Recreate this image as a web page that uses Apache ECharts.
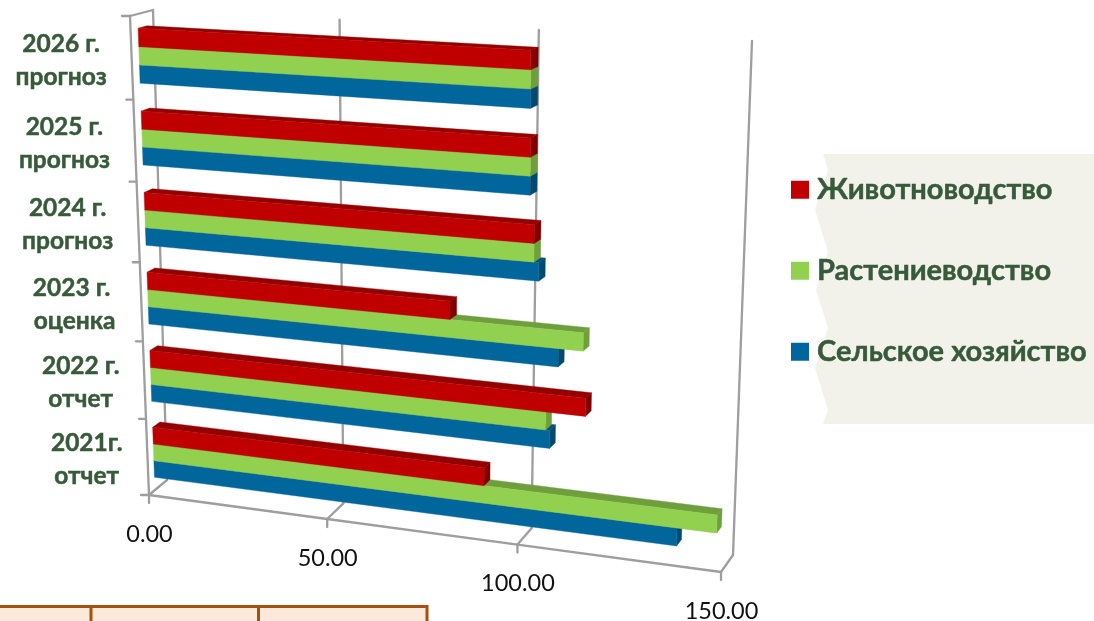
<!DOCTYPE html>
<html><head><meta charset="utf-8">
<style>html,body{margin:0;padding:0;background:#fff}#c{width:1094px;height:621px}</style>
<script src="https://cdn.jsdelivr.net/npm/echarts@6/dist/echarts.min.js"></script>
</head><body><div id="c"></div>
<script>
const categories = ['2021г.\nотчет','2022 г.\nотчет','2023 г. \nоценка','2024 г.\nпрогноз','2025 г.\nпрогноз','2026 г.\nпрогноз'];
const valueTicks = [0, 50, 100, 150];
const seriesNames = ['Сельское хозяйство','Растениеводство','Животноводство'];
const agriculture = [138.3, 106.7, 108.6, 103.6, 101.3, 101.2];
const cropFarming = [147.8, 105.7, 114.7, 102.4, 101.3, 101.2];
const livestock = [90.2, 115.5, 81.4, 102.4, 101.3, 101.2];

const FONT = 'Lato, "Noto Sans", sans-serif';
const colors = {front:['#00669C','#92D050','#C00000'], top:['#00537F','#6F9E3C','#930000'], side:['#004A70','#6F9E3C','#800000']};
const AXIS = '#9E9E9E';
const GREEN_TEXT = '#375A3A';
// projected box corners: [bottom-left, bottom-right, top-left, top-right]
const frontPlane = [[149,495],[721,572],[130,16],[735,49]];
const backPlane  = [[167,480],[733,555],[153,10],[752,41]];
const persU = 0.105, persV = 0.058;
function bil(q,t,s){
  const bx=q[0][0]+(q[1][0]-q[0][0])*t, by=q[0][1]+(q[1][1]-q[0][1])*t;
  const tx=q[2][0]+(q[3][0]-q[2][0])*t, ty=q[2][1]+(q[3][1]-q[2][1])*t;
  return [bx+(tx-bx)*s, by+(ty-by)*s];
}
function project(u,v,w){
  const t=u/(1+persU*(1-u)), s=v/(1+persV*(1-v));
  const a=bil(frontPlane,t,s), b=bil(backPlane,t,s);
  return [a[0]+(b[0]-a[0])*w, a[1]+(b[1]-a[1])*w];
}
function norm(params,api,val,cat){
  const cs=params.coordSys, p=api.coord([val,cat]);
  return [(p[0]-cs.x)/cs.width, 1-(p[1]-cs.y)/cs.height];
}
function poly(pts,fill){return {type:'polygon',shape:{points:pts},style:{fill:fill,stroke:fill,lineWidth:0.4}};}
function seg(a,b,w){return {type:'line',shape:{x1:a[0],y1:a[1],x2:b[0],y2:b[1]},style:{stroke:AXIS,lineWidth:w||2.3,lineCap:'round'}};}

const BAR = 0.22, W1 = 0.33, W2 = 0.72;
function barItem(k){
  return function(params,api){
    const cat=api.value(0), val=api.value(1);
    const n=norm(params,api,val,cat), n0=norm(params,api,0,cat);
    const band=api.size([0,1])[1]/params.coordSys.height;
    const v0=n[1]-1.5*BAR*band+k*BAR*band, v1=v0+BAR*band;
    const u=n[0], u0=n0[0];
    const A=project(u0,v0,W1),B=project(u,v0,W1),C=project(u,v1,W1),D=project(u0,v1,W1);
    const C2=project(u,v1,W2),D2=project(u0,v1,W2),B2=project(u,v0,W2);
    return {type:'group',children:[
      poly([D,C,C2,D2],colors.top[k]),
      poly([B,C,C2,B2],colors.side[k]),
      poly([A,B,C,D],colors.front[k])
    ]};
  };
}
function frameValue(params,api){
  const val=api.value(0);
  const u=norm(params,api,val,0)[0];
  const f0=project(u,0,0), b0=project(u,0,1), b1=project(u,1,1);
  const kids=[seg(b0,b1),seg(f0,b0),seg(f0,[f0[0],f0[1]+8])];
  if(params.dataIndex<valueTicks.length-1){
    const u2=norm(params,api,valueTicks[params.dataIndex+1],0)[0];
    kids.push(seg(f0,project(u2,0,0)));
  }
  if(params.dataIndex===0){
    const t0=project(u,1,0), t1=project(u,1,1);
    kids.push(seg(f0,t0),seg(t0,t1),seg(f0,[f0[0]-8,f0[1]]),seg(t0,[t0[0]-8,t0[1]]));
  }
  kids.push({type:'text',style:{text:val.toFixed(2),x:f0[0]+0.5,y:f0[1]+39,align:'center',verticalAlign:'middle',fill:'#111',font:'23.5px '+FONT}});
  return {type:'group',children:kids};
}
const measure=document.createElement('canvas').getContext('2d');
function frameCat(params,api){
  const i=params.dataIndex;
  const band=api.size([0,1])[1]/params.coordSys.height;
  const v=norm(params,api,0,i)[1];
  const kids=[];
  const tp=project(0,v+band/2,0);
  if(i<categories.length-1) kids.push(seg(tp,[tp[0]-7,tp[1]]));
  const c=project(0,v,0);
  const font='bold 24.5px '+FONT;
  measure.font=font;
  const txt=categories[i], wid=Math.max(...txt.split('\n').map(s=>measure.measureText(s).width));
  kids.push({type:'text',style:{text:txt,x:c[0]-25-wid/2,y:c[1]+2.5,align:'center',verticalAlign:'middle',fill:GREEN_TEXT,stroke:GREEN_TEXT,lineWidth:0.5,font:font,lineHeight:33.5}});
  return {type:'group',children:kids};
}
const chart=echarts.init(document.getElementById('c'));
const rows=[agriculture,cropFarming,livestock];
chart.setOption({
  animation:false,
  backgroundColor:'#fff',
  grid:{left:0,top:0,width:1094,height:621},
  xAxis:{type:'value',min:0,max:150,interval:50,show:false},
  yAxis:{type:'category',data:categories,show:false},
  legend:{orient:'vertical',left:786,top:170,itemWidth:18,itemHeight:18,itemGap:51.5,icon:'rect',
    selectedMode:false,data:[seriesNames[2],seriesNames[1],seriesNames[0]],
    textStyle:{fontFamily:FONT,fontWeight:'bold',fontSize:29,color:GREEN_TEXT,padding:[0,0,0,3],textBorderColor:GREEN_TEXT,textBorderWidth:0.5}},
  graphic:[
    {type:'polygon',silent:true,z:-10,shape:{points:[[823,154],[1094,154],[1094,424],[823,424],[828,410],[815,368],[828,328],[816,290],[828,252],[815,210],[828,170]]},style:{fill:'#F2F2EA'}},
    {type:'rect',silent:true,z:-10,shape:{x:-3,y:606.5,width:430,height:30},style:{fill:'#FBE9DB',stroke:'#A5500F',lineWidth:3}},
    {type:'line',silent:true,z:-10,shape:{x1:91,y1:606,x2:91,y2:621},style:{stroke:'#A5500F',lineWidth:3}},
    {type:'line',silent:true,z:-10,shape:{x1:258.5,y1:606,x2:258.5,y2:621},style:{stroke:'#A5500F',lineWidth:3}}
  ],
  series:[
    {type:'custom',name:'axis-values',silent:true,z:1,data:valueTicks.map(v=>[v]),encode:{x:0},renderItem:frameValue},
    {type:'custom',name:'axis-cats',silent:true,z:1,data:categories.map((c,i)=>[i]),encode:{y:0},renderItem:frameCat},
    ...seriesNames.map((nm,k)=>({type:'custom',name:nm,z:2+k,itemStyle:{color:colors.front[k]},
      data:rows[k].map((v,i)=>[i,v]),encode:{x:1,y:0},renderItem:barItem(k)}))
  ]
});
</script></body></html>
